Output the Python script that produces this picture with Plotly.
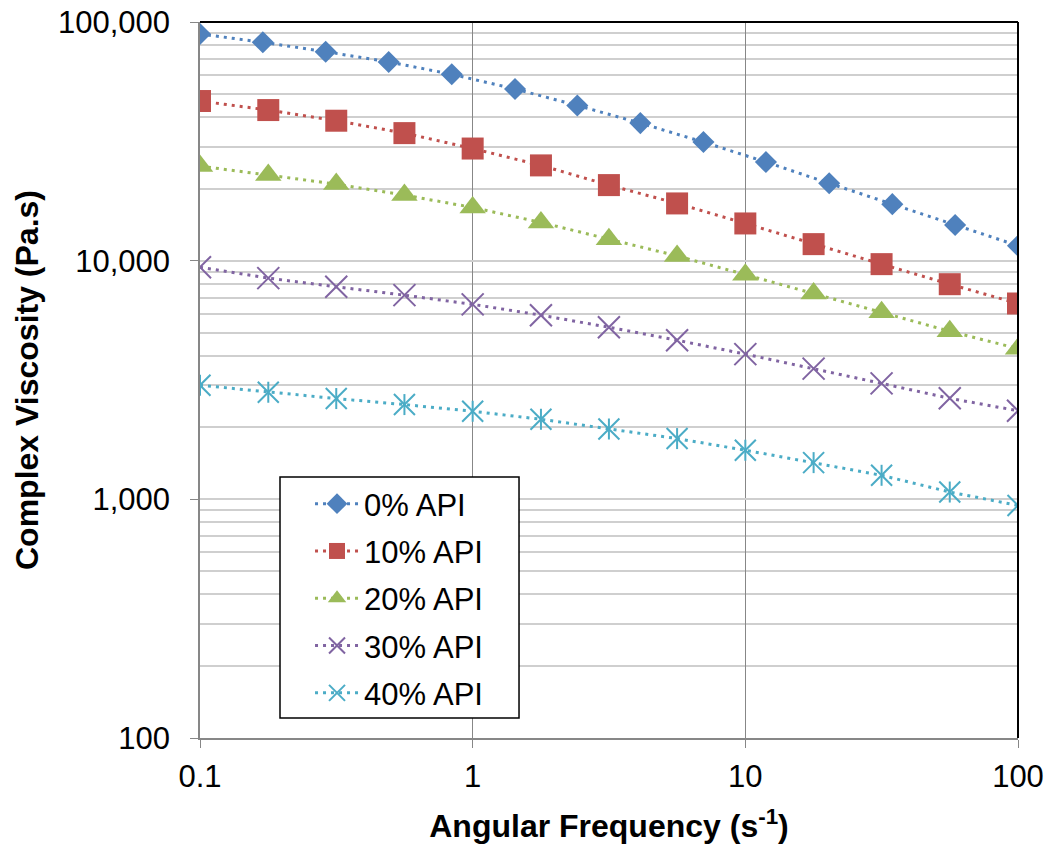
import plotly.graph_objects as go

# Angular frequency (s^-1)
freq_0 = [0.1, 0.17, 0.289, 0.492, 0.838, 1.43, 2.42, 4.12, 7.02, 11.9, 20.3, 34.6, 58.8, 100]
freq = [0.1, 0.178, 0.316, 0.562, 1.0, 1.78, 3.16, 5.62, 10.0, 17.8, 31.6, 56.2, 100]

# Complex viscosity (Pa.s)
api_0 = [89100, 82200, 75100, 68000, 60400, 52400, 44700, 37700, 31400, 25900, 21100, 17250, 14100, 11550]
api_10 = [46650, 42760, 38580, 34230, 29500, 25070, 20730, 17370, 14320, 11730, 9670, 7970, 6615]
api_20 = [24900, 22830, 20930, 18820, 16710, 14460, 12310, 10470, 8740, 7290, 6080, 5060, 4280]
api_30 = [9390, 8450, 7770, 7170, 6560, 5910, 5260, 4640, 4060, 3530, 3060, 2650, 2350]
api_40 = [3006, 2810, 2644, 2495, 2339, 2165, 1971, 1797, 1606, 1425, 1261, 1073, 943]

names = ["0% API", "10% API", "20% API", "30% API", "40% API"]
colors = ["#4F81BD", "#C0504D", "#9BBB59", "#8064A2", "#4BACC6"]

y_major = [100, 1000, 10000, 100000]
y_major_text = ["100", "1,000", "10,000", "100,000"]
y_minor = [m * d for d in [100, 1000, 10000] for m in range(2, 10)]
x_major = [0.1, 1, 10, 100]
x_major_text = ["0.1", "1", "10", "100"]

FONT = "Arial, Liberation Sans, sans-serif"
DOT = "3px,5px"

fig = go.Figure()

series = [
    (freq_0, api_0, "diamond", 17, 0),
    (freq, api_10, "square", 22, 0),
    (freq, api_20, "triangle-up", 23, 0),
    (freq, api_30, "x-thin-open", 22, 2),
    (freq, api_40, "x-thin-open", 21, 2),
]
for i, (xs, ys, sym, sz, lw) in enumerate(series):
    c = colors[i]
    fig.add_trace(go.Scatter(
        x=xs, y=ys, name=names[i], mode="lines+markers", legendgroup=names[i],
        line=dict(color=c, width=3, dash=DOT),
        marker=dict(symbol=sym, size=sz, color=c, line=dict(color=c, width=lw)),
    ))
    if i == 4:
        fig.add_trace(go.Scatter(
            x=xs, y=ys, mode="markers", showlegend=False, legendgroup=names[i],
            marker=dict(symbol="line-ns-open", size=15, color=c, line=dict(color=c, width=2)),
        ))

fig.update_xaxes(
    type="log", range=[-1, 2], automargin=False,
    tickvals=x_major, ticktext=x_major_text,
    showgrid=True, gridcolor="#878787", gridwidth=1.3,
    showline=True, linecolor="#878787", linewidth=1.5,
    ticks="outside", ticklen=8, tickcolor="#878787", tickwidth=1.3,
    tickfont=dict(family=FONT, size=31, color="#000"),
    ticklabelstandoff=2,
    title=dict(text="<b>Angular Frequency (s<sup>-1</sup>)</b>", font=dict(family=FONT, size=32, color="#000"), standoff=22),
    zeroline=False,
)
fig.update_yaxes(
    type="log", range=[2, 5], automargin=False,
    tickvals=y_major, ticktext=y_major_text,
    showgrid=True, gridcolor="#cfcfcf", gridwidth=1.5,
    minor=dict(tickvals=y_minor, showgrid=True, gridcolor="#cfcfcf", gridwidth=1.5, ticks=""),
    showline=True, linecolor="#878787", linewidth=1.5,
    ticks="outside", ticklen=8, tickcolor="#878787", tickwidth=1.3,
    tickfont=dict(family=FONT, size=31, color="#000"),
    ticklabelstandoff=14,
    title=dict(text="<b>Complex Viscosity (Pa.s)</b>", font=dict(family=FONT, size=32, color="#000"), standoff=10),
    zeroline=False,
)

fig.add_shape(type="line", xref="paper", yref="paper", x0=0, x1=1, y0=1, y1=1,
              line=dict(color="#000", width=2))
fig.add_shape(type="line", xref="paper", yref="paper", x0=1, x1=1, y0=0, y1=1,
              line=dict(color="#000", width=2))
# legend frame
fig.add_shape(type="rect", xref="paper", yref="paper", x0=0.0978, x1=0.390, y0=0.0279, y1=0.3645,
              line=dict(color="#000", width=1.5), fillcolor="white", layer="above")

fig.update_layout(
    width=1052, height=849,
    margin=dict(l=200, r=34, t=22, b=111),
    paper_bgcolor="white", plot_bgcolor="white",
    font=dict(family=FONT, color="#000"),
    legend=dict(
        x=0.1345, y=0.3645, xanchor="left", yanchor="top",
        bgcolor="rgba(0,0,0,0)", borderwidth=0,
        font=dict(family=FONT, size=31, color="#000"),
        itemwidth=44, tracegroupgap=4, traceorder="grouped",
    ),
    showlegend=True,
)

fig.write_html("out.html")
